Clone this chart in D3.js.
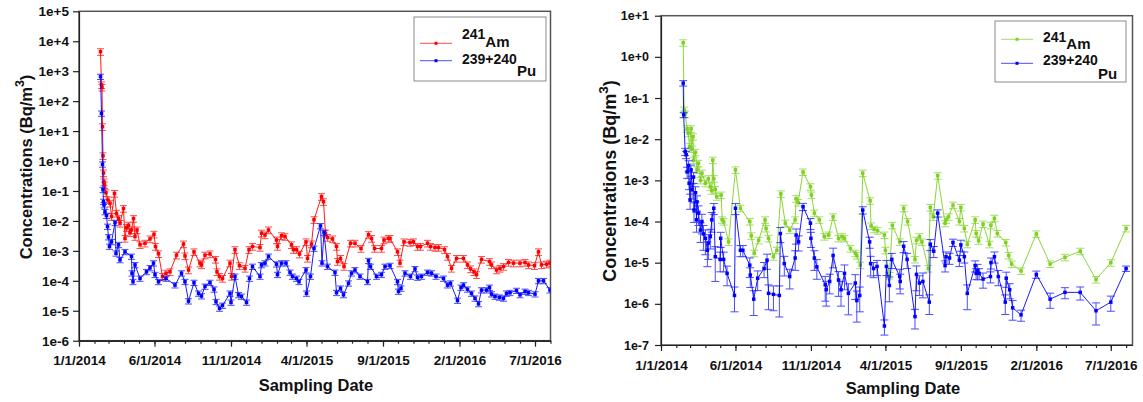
<!DOCTYPE html>
<html>
<head>
<meta charset="utf-8">
<script src="https://cdn.jsdelivr.net/npm/d3@7"></script>
<style>
  body { margin: 0; background: #fff; }
  text { font-family: "Liberation Sans", Arial, sans-serif; font-weight: bold; fill: #111; }
</style>
</head>
<body>
<svg id="chart" width="1143" height="402"></svg>
<script>
// sampling dates are stored as days after 1/1/2014
var startDate = new Date(2014, 0, 1);

var xTickDates = ["2014-01-01", "2014-06-01", "2014-11-01", "2015-04-01", "2015-09-01", "2016-02-01", "2016-07-01"];
var xTickLabels = ["1/1/2014", "6/1/2014", "11/1/2014", "4/1/2015", "9/1/2015", "2/1/2016", "7/1/2016"];
var leftYTicks = [1e-6, 1e-5, 1e-4, 1e-3, 1e-2, 1e-1, 1e0, 1e1, 1e2, 1e3, 1e4, 1e5];
var rightYTicks = [1e-7, 1e-6, 1e-5, 1e-4, 1e-3, 1e-2, 1e-1, 1e0, 1e1];

// left panel: [day, Bq/m3]
var leftAm = [[43,4.5e3],[45,3.5e2],[46,2.9e2],[47,14],[48,1.5],[49,0.40],[50,0.20],[51,0.16],[54,0.087],[58,0.05],
  [62,0.039],[65,0.014],[71,0.083],[75,0.018],[79,0.012],[82,0.0083],[89,0.026],[92,0.0026],[95,0.006],[99,0.0072],
  [102,0.004],[105,0.005],[109,0.012],[112,0.003],[116,0.005],[122,0.0016],[132,0.0018],[142,0.0025],[150,0.0036],[153,0.0014],
  [159,8e-4],[167,1.4e-4],[174,1.8e-4],[182,2.0e-4],[195,7.2e-4],[209,1.7e-3],[212,6.8e-4],[219,2.3e-4],[230,9.3e-4],[242,3.9e-4],
  [245,3.4e-4],[252,7.2e-4],[262,7.9e-4],[273,5.2e-4],[276,2.0e-4],[281,1.4e-4],[287,1.2e-4],[302,3.9e-4],[305,1.4e-4],[312,1.1e-3],
  [321,3.2e-4],[332,2.6e-4],[340,1.1e-3],[347,1.4e-3],[362,1.3e-3],[365,3.9e-3],[372,3.4e-3],[379,5.0e-3],[395,2.3e-3],[397,1.4e-3],
  [405,3.2e-3],[412,3.0e-3],[425,1.6e-3],[429,1.1e-3],[435,1.1e-3],[441,7.8e-4],[454,2.0e-3],[457,5.6e-4],[465,1.7e-3],[470,1.1e-2],
  [485,6.5e-2],[489,4.4e-2],[493,3.9e-3],[497,2.8e-3],[507,2.5e-3],[515,1.4e-3],[517,4.4e-4],[523,5.6e-4],[530,3.0e-4],[543,1.8e-3],
  [552,1.8e-3],[564,1.2e-3],[579,3.5e-3],[585,2.6e-3],[591,1.2e-3],[605,1.2e-3],[610,2.3e-3],[619,2.6e-3],[622,2.6e-3],[637,9.3e-4],
  [642,3.9e-4],[650,2.0e-3],[662,1.9e-3],[669,2.0e-3],[677,1.4e-3],[683,1.4e-3],[697,1.8e-3],[703,1.4e-3],[712,1.3e-3],[719,1.3e-3],
  [731,1.1e-3],[737,6.5e-4],[745,2.6e-4],[755,5.6e-4],[769,5.6e-4],[777,3.4e-4],[783,2.5e-4],[790,2.0e-4],[795,1.6e-4],[805,5.2e-4],
  [821,4.4e-4],[825,3.4e-4],[835,2.3e-4],[842,2.6e-4],[849,3.0e-4],[859,4.1e-4],[869,3.9e-4],[882,3.9e-4],[892,4.1e-4],[899,3.4e-4],
  [911,3.2e-4],[919,9.3e-4],[925,3.4e-4],[935,3.6e-4],[942,3.9e-4]];

var leftPu = [[43,660],[45,39],[47,0.78],[48,0.11],[49,0.044],[50,0.034],[52,0.02],[55,0.015],[57,0.0065],[59,0.0029],
  [61,0.0014],[65,0.002],[72,0.0087],[74,8.3e-4],[79,0.0016],[82,5e-4],[92,9.3e-4],[105,6.5e-4],[106,1.8e-4],[108,9.3e-5],
  [112,3.4e-4],[122,1.2e-4],[135,2.0e-4],[142,2.7e-4],[149,3.9e-4],[152,1.6e-4],[159,9.3e-5],[174,1.2e-4],[192,7.2e-5],[205,1.8e-4],
  [212,9.3e-5],[219,2.1e-5],[230,8.7e-5],[239,3.8e-5],[245,3.1e-5],[252,6.5e-5],[262,8.7e-5],[270,5.2e-5],[274,2.0e-5],[281,1.2e-5],
  [287,1.5e-5],[302,3.8e-5],[304,1.9e-5],[312,1.4e-4],[319,3.4e-5],[325,3.0e-5],[335,1.9e-5],[341,1.2e-4],[347,3.0e-4],[362,1.4e-4],
  [365,3.4e-4],[372,3.9e-4],[379,6.5e-4],[395,3.6e-4],[397,1.6e-4],[405,3.9e-4],[414,3.9e-4],[422,1.9e-4],[427,1.4e-4],[435,1.2e-4],
  [440,9.3e-5],[454,2.3e-4],[455,3.8e-5],[463,1.4e-4],[470,1.2e-3],[483,6.8e-3],[486,3.9e-4],[490,4.1e-3],[497,3.0e-4],[512,1.9e-4],
  [515,4.0e-5],[523,5.6e-5],[529,3.4e-5],[539,8.3e-5],[545,1.8e-4],[552,2.3e-4],[562,1.4e-4],[577,9.3e-5],[579,4.7e-4],[583,3.0e-4],
  [595,1.4e-4],[605,1.6e-4],[612,3.0e-4],[622,3.2e-4],[637,9.3e-5],[639,4.4e-5],[644,5.6e-5],[652,1.8e-4],[663,1.4e-4],[672,2.5e-4],
  [677,1.3e-4],[685,1.4e-4],[697,1.9e-4],[705,1.8e-4],[714,1.4e-4],[729,1.2e-4],[737,7.2e-5],[743,8.3e-5],[757,2.2e-5],[764,6.0e-5],
  [769,7.2e-5],[777,5.2e-5],[785,3.8e-5],[792,2.6e-5],[799,1.7e-5],[805,4.9e-5],[815,4.9e-5],[821,6.0e-5],[825,3.6e-5],[832,3.0e-5],
  [841,2.8e-5],[849,2.6e-5],[855,3.8e-5],[862,4.0e-5],[875,4.7e-5],[882,3.4e-5],[892,4.4e-5],[899,4.0e-5],[912,3.6e-5],[919,1.0e-4],
  [929,1.0e-4],[942,4.9e-5]];

// right panel: [day, Bq/m3]
var rightAm = [[45,2.2],[47,0.051],[49,0.041],[53,0.018],[55,0.014],[58,0.0066],[61,0.018],[62,0.0058],[65,0.0115],[66,0.0031],
  [70,0.0048],[73,0.0018],[76,0.0026],[80,0.001],[83,0.0015],[90,8.5e-4],[96,0.0011],[100,7e-4],[103,5.6e-4],[105,0.0031],
  [107,0.0011],[110,6e-4],[113,4e-4],[122,4.4e-4],[124,1.1e-4],[127,1.0e-4],[137,3.2e-5],[151,0.0018],[161,2.1e-4],[180,1.0e-4],
  [183,4.5e-5],[189,1.7e-5],[198,3.5e-5],[211,1.1e-4],[213,6.8e-5],[218,3.9e-5],[228,1.4e-5],[235,2.0e-5],[243,4.7e-4],[252,9.1e-5],
  [261,6.2e-5],[272,1.1e-4],[274,3.6e-4],[278,2.9e-4],[288,0.0016],[303,7e-4],[305,4.4e-4],[311,1.6e-4],[321,1.1e-4],[331,4.3e-5],
  [340,4.7e-5],[349,1.3e-4],[360,3.9e-5],[367,4.3e-5],[372,3.9e-5],[384,2.2e-5],[394,1.7e-5],[397,1.5e-5],[404,8.7e-6],[409,0.0015],
  [424,3.2e-4],[426,7.8e-5],[432,6.5e-5],[439,6.0e-5],[453,4.7e-5],[455,2.0e-5],[463,4.9e-6],[469,8.1e-5],[484,3.2e-5],[492,2.1e-4],
  [500,1.0e-4],[515,1.2e-5],[518,3.5e-5],[524,4.3e-5],[529,3.2e-5],[542,7.2e-6],[546,2.2e-4],[552,1.3e-4],[561,0.0013],[576,9.1e-5],
  [578,1.1e-4],[583,1.3e-4],[592,2.5e-4],[605,1.0e-4],[608,2.2e-4],[615,6.8e-5],[621,2.8e-5],[637,1.1e-4],[639,5.1e-5],[644,3.4e-5],
  [653,8.7e-5],[666,2.8e-5],[669,8.1e-5],[676,1.2e-4],[682,5.1e-5],[699,3.1e-5],[705,1.5e-5],[711,9.3e-6],[730,6.3e-6],[761,5.0e-5],
  [789,9.3e-6],[819,1.35e-5],[850,1.9e-5],[882,3.9e-6],[912,1.0e-5],[943,6.8e-5]];

// right panel Pu: [day, Bq/m3, relative uncertainty]
var rightPu = [[45,0.23,0.15],[46,0.039,0.15],[49,0.005,0.2],[51,0.0042,0.2],[53,0.0016,0.3],[56,0.0023,0.3],[57,8.5e-4,0.3],[59,3.3e-4,0.4],[61,0.0018,0.3],[63,5.9e-4,0.4],
  [66,0.0012,0.3],[67,1.9e-4,0.5],[70,5e-4,0.4],[72,1.1e-4,0.5],[73,3e-4,0.4],[76,1.6e-4,0.5],[80,6.2e-5,0.5],[83,1.0e-4,0.5],[86,5e-5,0.6],[90,3.9e-5,0.6],
  [94,2.0e-5,0.6],[96,3.0e-5,0.6],[100,4.3e-5,0.5],[103,1.1e-4,0.5],[107,2.1e-4,0.3],[110,1.4e-5,0.75],[120,1.2e-5,0.5],[121,3.9e-5,0.4],[127,1.2e-5,0.5],[134,5.5e-6,0.5],
  [149,1.6e-6,0.6],[151,2.1e-4,0.3],[161,2.0e-5,0.3],[166,2.0e-5,0.3],[180,8.7e-6,0.5],[181,5.0e-6,0.5],[188,1.3e-6,0.6],[196,4.2e-6,0.5],[209,7.2e-6,0.4],[215,1.15e-5,0.4],
  [218,1.8e-6,0.6],[228,1.7e-6,0.6],[240,1.6e-6,0.7],[242,5.1e-5,0.4],[250,9.5e-6,0.5],[261,4.6e-6,0.5],[272,1.3e-5,0.5],[274,4.7e-5,0.4],[279,3.2e-5,0.4],[288,2.3e-4,0.2],
  [303,9.1e-5,0.3],[304,3.9e-5,0.4],[311,1.3e-5,0.5],[316,7.9e-6,0.5],[333,2.9e-6,0.6],[335,2.2e-6,0.6],[342,3.5e-6,0.5],[349,1.5e-5,0.5],[360,3.8e-6,0.6],[365,2.2e-6,0.6],
  [372,5.5e-6,0.6],[380,1.8e-6,0.7],[394,3.2e-6,0.6],[397,1.2e-6,0.7],[403,1.6e-6,0.6],[409,1.9e-4,0.2],[423,3.2e-5,0.3],[425,9.5e-6,0.5],[431,7.2e-6,0.4],[438,8.1e-6,0.4],
  [453,2.9e-7,0.4],[457,8.1e-6,0.4],[463,2.8e-6,0.6],[468,1.2e-5,0.4],[484,4.6e-6,0.5],[485,3.5e-6,0.5],[492,2.5e-5,0.3],[499,1.2e-5,0.4],[515,4.9e-7,0.5],[518,5.2e-6,0.6],
  [524,3.2e-6,0.5],[531,3.5e-6,0.6],[544,1.1e-6,0.5],[546,2.8e-5,0.3],[553,1.9e-5,0.3],[561,1.6e-4,0.2],[576,8.5e-6,0.3],[578,1.4e-5,0.3],[585,1.3e-5,0.3],[592,3.1e-5,0.2],
  [605,1.15e-5,0.3],[608,2.7e-5,0.3],[615,1.4e-5,0.3],[621,1.8e-6,0.6],[637,8.5e-6,0.3],[639,5.5e-6,0.3],[642,6.5e-6,0.4],[645,5.5e-6,0.3],[653,4.0e-6,0.4],[668,4.6e-6,0.3],
  [669,1.0e-5,0.3],[676,1.4e-5,0.3],[684,4.6e-6,0.4],[698,1.1e-6,0.5],[700,4.2e-6,0.4],[707,2.2e-6,0.4],[713,8e-7,0.5],[730,5.4e-7,0.3],[761,5.2e-6,0.2],[789,1.3e-6,0.4],
  [819,1.9e-6,0.3],[850,1.9e-6,0.35],[882,6.8e-7,0.55],[912,1.1e-6,0.4],[943,7.2e-6,0.15]];

// relative uncertainty used where the series has no per-point value
var leftAmErr = 0.25, leftPuErr = 0.2, rightAmErr = 0.18;

var svg = d3.select("#chart");
var parseDay = d3.timeParse("%Y-%m-%d");

function expFormat(v) {
  var e = Math.round(Math.log10(v));
  return "1e" + (e >= 0 ? "+" : "") + e;
}

function drawPanel(p) {
  var x = d3.scaleTime().domain([startDate, p.endDate]).range([p.left, p.right]);
  var y = d3.scaleLog().domain([p.yTicks[0], p.yTicks[p.yTicks.length - 1]]).range([p.bottom, p.top]);
  var g = svg.append("g");

  var clipId = "clip" + p.id;
  g.append("clipPath").attr("id", clipId)
    .append("rect")
      .attr("x", p.left).attr("y", p.top)
      .attr("width", p.right - p.left).attr("height", p.bottom - p.top);

  // frame
  g.append("rect")
    .attr("x", p.left).attr("y", p.top)
    .attr("width", p.right - p.left).attr("height", p.bottom - p.top)
    .attr("fill", "none").attr("stroke", "#555").attr("stroke-width", 1.5);

  // y axis
  var yAxis = g.append("g")
    .attr("transform", "translate(" + p.left + ",0)")
    .call(d3.axisLeft(y).tickValues(p.yTicks).tickFormat(expFormat)
      .tickSize(6).tickSizeOuter(0).tickPadding(p.yPad));
  yAxis.selectAll("text").style("font-size", p.yFont + "px");

  // x axis, monthly minor ticks then labelled major ticks
  g.append("g")
    .attr("transform", "translate(0," + p.bottom + ")")
    .call(d3.axisBottom(x).ticks(d3.timeMonth.every(1)).tickFormat("")
      .tickSize(3).tickSizeOuter(0));
  var xAxis = g.append("g")
    .attr("transform", "translate(0," + p.bottom + ")")
    .call(d3.axisBottom(x).tickValues(xTickDates.map(parseDay))
      .tickFormat(function(d, i) { return xTickLabels[i]; })
      .tickSize(6).tickSizeOuter(0).tickPadding(9));
  xAxis.selectAll("text").style("font-size", "13.5px");

  g.selectAll(".domain, .tick line").attr("stroke", "#222").attr("stroke-width", 1.2);

  // axis titles
  g.append("text")
    .attr("x", p.xTitleX).attr("y", p.xTitleY)
    .attr("text-anchor", "middle")
    .style("font-size", "16.5px")
    .text("Sampling Date");

  var yt = g.append("text")
    .attr("transform", "translate(" + p.yTitleX + "," + p.yTitleY + ") rotate(-90)")
    .attr("text-anchor", "middle")
    .style("font-size", p.yTitleFont + "px");
  yt.append("tspan").text("Concentrations (Bq/m");
  yt.append("tspan").attr("dy", -p.yTitleFont * 0.45).style("font-size", (p.yTitleFont * 0.75) + "px").text("3");
  yt.append("tspan").attr("dy", p.yTitleFont * 0.45).text(")");

  // series
  var plot = g.append("g").attr("clip-path", "url(#" + clipId + ")");
  var yMin = p.yTicks[0];

  p.series.forEach(function(s) {
    var pts = s.data.map(function(d) {
      var e = d.length > 2 ? d[2] : s.err;
      return {
        date: d3.timeDay.offset(startDate, d[0]),
        v: d[1],
        lo: Math.max(d[1] * (1 - e), yMin),
        hi: d[1] * (1 + e)
      };
    });

    var eb = plot.append("g")
      .attr("stroke", s.color).attr("stroke-width", 1).attr("opacity", 0.7);
    eb.selectAll("line.bar").data(pts).enter().append("line")
      .attr("x1", function(d) { return x(d.date); })
      .attr("x2", function(d) { return x(d.date); })
      .attr("y1", function(d) { return y(d.lo); })
      .attr("y2", function(d) { return y(d.hi); });
    eb.selectAll("line.capLo").data(pts).enter().append("line")
      .attr("x1", function(d) { return x(d.date) - p.cap; })
      .attr("x2", function(d) { return x(d.date) + p.cap; })
      .attr("y1", function(d) { return y(d.lo); })
      .attr("y2", function(d) { return y(d.lo); });
    eb.selectAll("line.capHi").data(pts).enter().append("line")
      .attr("x1", function(d) { return x(d.date) - p.cap; })
      .attr("x2", function(d) { return x(d.date) + p.cap; })
      .attr("y1", function(d) { return y(d.hi); })
      .attr("y2", function(d) { return y(d.hi); });

    plot.append("path")
      .datum(pts)
      .attr("fill", "none")
      .attr("stroke", s.color)
      .attr("stroke-width", 1)
      .attr("opacity", 0.9)
      .attr("d", d3.line()
        .x(function(d) { return x(d.date); })
        .y(function(d) { return y(d.v); }));

    plot.append("g").selectAll("rect").data(pts).enter().append("rect")
      .attr("x", function(d) { return x(d.date) - 1.75; })
      .attr("y", function(d) { return y(d.v) - 1.75; })
      .attr("width", 3.5).attr("height", 3.5)
      .attr("fill", s.color);
  });

  // legend
  var L = p.legend;
  g.append("rect")
    .attr("x", L.x).attr("y", L.y).attr("width", L.w).attr("height", L.h)
    .attr("fill", "#fff").attr("stroke", "#8a8a8a").attr("stroke-width", 1);
  p.series.forEach(function(s, i) {
    var row = L.rows[i];
    g.append("line")
      .attr("x1", L.x + 6).attr("x2", L.x + 38)
      .attr("y1", row.line).attr("y2", row.line)
      .attr("stroke", s.color).attr("stroke-width", 1).attr("opacity", 0.7);
    g.append("rect")
      .attr("x", L.x + 20.5).attr("y", row.line - 1.5)
      .attr("width", 3).attr("height", 3)
      .attr("fill", s.color);
    var t = g.append("text")
      .attr("x", L.x + 48).attr("y", row.sup)
      .style("font-size", "14px");
    t.append("tspan").text(s.mass);
    t.append("tspan").attr("dy", row.sub - row.sup).style("font-size", "15px").text(s.element);
  });
}

var red = "#ff0000", blue = "#0000ff", green = "#7fd024";

drawPanel({
  id: "L",
  left: 79, right: 550.5, top: 11.3, bottom: 340.7,
  endDate: new Date(2016, 7, 1),
  yTicks: leftYTicks, yFont: 13.5, yPad: 4,
  cap: 3.5,
  xTitleX: 316, xTitleY: 391,
  yTitleX: 31.5, yTitleY: 167, yTitleFont: 16.5,
  series: [
    { data: leftAm, color: red, err: leftAmErr, mass: "241", element: "Am" },
    { data: leftPu, color: blue, err: leftPuErr, mass: "239+240", element: "Pu" }
  ],
  legend: { x: 414, y: 17, w: 132, h: 64,
    rows: [{ line: 43.3, sup: 38.5, sub: 46.5 }, { line: 60.7, sup: 63.5, sub: 76 }] }
});

drawPanel({
  id: "R",
  left: 661, right: 1132.5, top: 15.7, bottom: 345,
  endDate: new Date(2016, 7, 14),
  yTicks: rightYTicks, yFont: 12.5, yPad: 6,
  cap: 4,
  xTitleX: 903, xTitleY: 394,
  yTitleX: 616, yTitleY: 181, yTitleFont: 18,
  series: [
    { data: rightAm, color: green, err: rightAmErr, mass: "241", element: "Am" },
    { data: rightPu, color: blue, mass: "239+240", element: "Pu" }
  ],
  legend: { x: 995, y: 21, w: 131, h: 61,
    rows: [{ line: 39.3, sup: 41.7, sub: 49.3 }, { line: 63.3, sup: 65, sub: 79 }] }
});
</script>
</body>
</html>
